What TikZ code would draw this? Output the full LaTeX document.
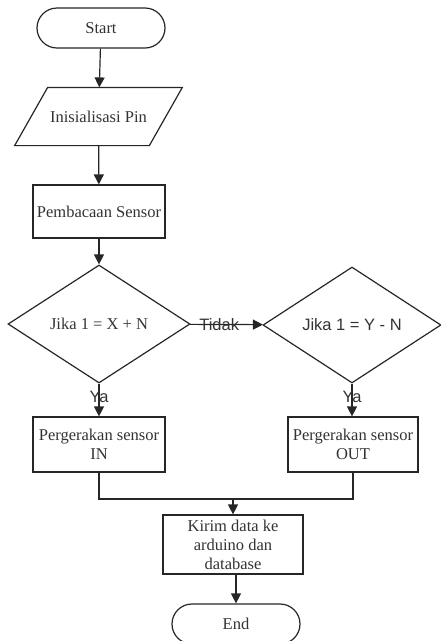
\documentclass[tikz,border=0pt]{standalone}
\usepackage{fontspec}
\setmainfont{Liberation Serif}
\newfontfamily\sansf{Liberation Sans}
\usetikzlibrary{shapes.geometric,arrows.meta,calc}
\begin{document}
\begin{tikzpicture}[x=1pt,y=-1pt,
  line width=1.2pt, draw=black!85,
  every node/.style={font=\fontsize{16.5}{19}\selectfont, text=black!80},
  term/.style={draw, rectangle, rounded corners=20pt, minimum width=128pt, minimum height=40pt, inner sep=0},
  procbox/.style={draw, rectangle, minimum height=54pt, inner sep=0, align=center},
  decis/.style={draw, diamond, inner sep=0, font=\sansf\fontsize{16.5}{19}\selectfont},
  lbl/.style={font=\sansf\fontsize{16.5}{19}\selectfont, inner sep=0},
  flow/.style={-{Triangle[length=10pt,width=10pt]}}
]
\useasboundingbox (0,0) rectangle (440,641);
\node[term] (start) at (101,28) {Start};
\node[minimum width=133.5pt, minimum height=57pt, inner sep=0] (par) at (98.5,116.5) {Inisialisasi Pin};
\draw ($(par.north west)+(16.5,0)$) -- ($(par.north east)+(16.5,0)$) -- ($(par.south east)+(-16.5,0)$) -- ($(par.south west)+(-16.5,0)$) -- cycle;
\node[procbox, minimum width=132pt, minimum height=53pt] (sensor) at (99,211.5) {Pembacaan Sensor};
\node[decis, minimum width=182pt, minimum height=118pt] (d1) at (99,324) {\rmfamily Jika 1 = X + N};
\node[decis, minimum width=178pt, minimum height=116pt] (d2) at (352,325) {Jika 1 = Y - N};
\node[procbox, minimum width=132pt, minimum height=55pt] (in) at (99,444.5) {Pergerakan sensor\\IN};
\node[procbox, minimum width=130pt, minimum height=55pt] (out) at (353,444.5) {Pergerakan sensor\\OUT};
\node[procbox, minimum width=140pt, minimum height=59pt] (kirim) at (233,544.5) {Kirim data ke\\arduino dan\\database};
\node[term] (end) at (236,624) {End};
\coordinate (merge) at (233,499);

\draw[flow] (start) -- (par);
\draw[flow] (par) -- (sensor);
\draw[flow] (sensor) -- (d1);
\draw[flow] (d1) -- node[lbl, pos=0.4] (tidak) {Tidak} (d2);
\draw[flow] (d1) -- node[lbl, pos=0.4] (ya1) {Ya} (in);
\draw[flow] (d2.south) -- node[lbl, pos=0.4] (ya2) {Ya} (d2.south |- out.north);
\draw (in.south) |- (merge) -| (out.south);
\draw[flow] (merge) -- (kirim.north);
\draw[flow] (end.north |- kirim.south) -- (end.north);
\end{tikzpicture}
\end{document}
